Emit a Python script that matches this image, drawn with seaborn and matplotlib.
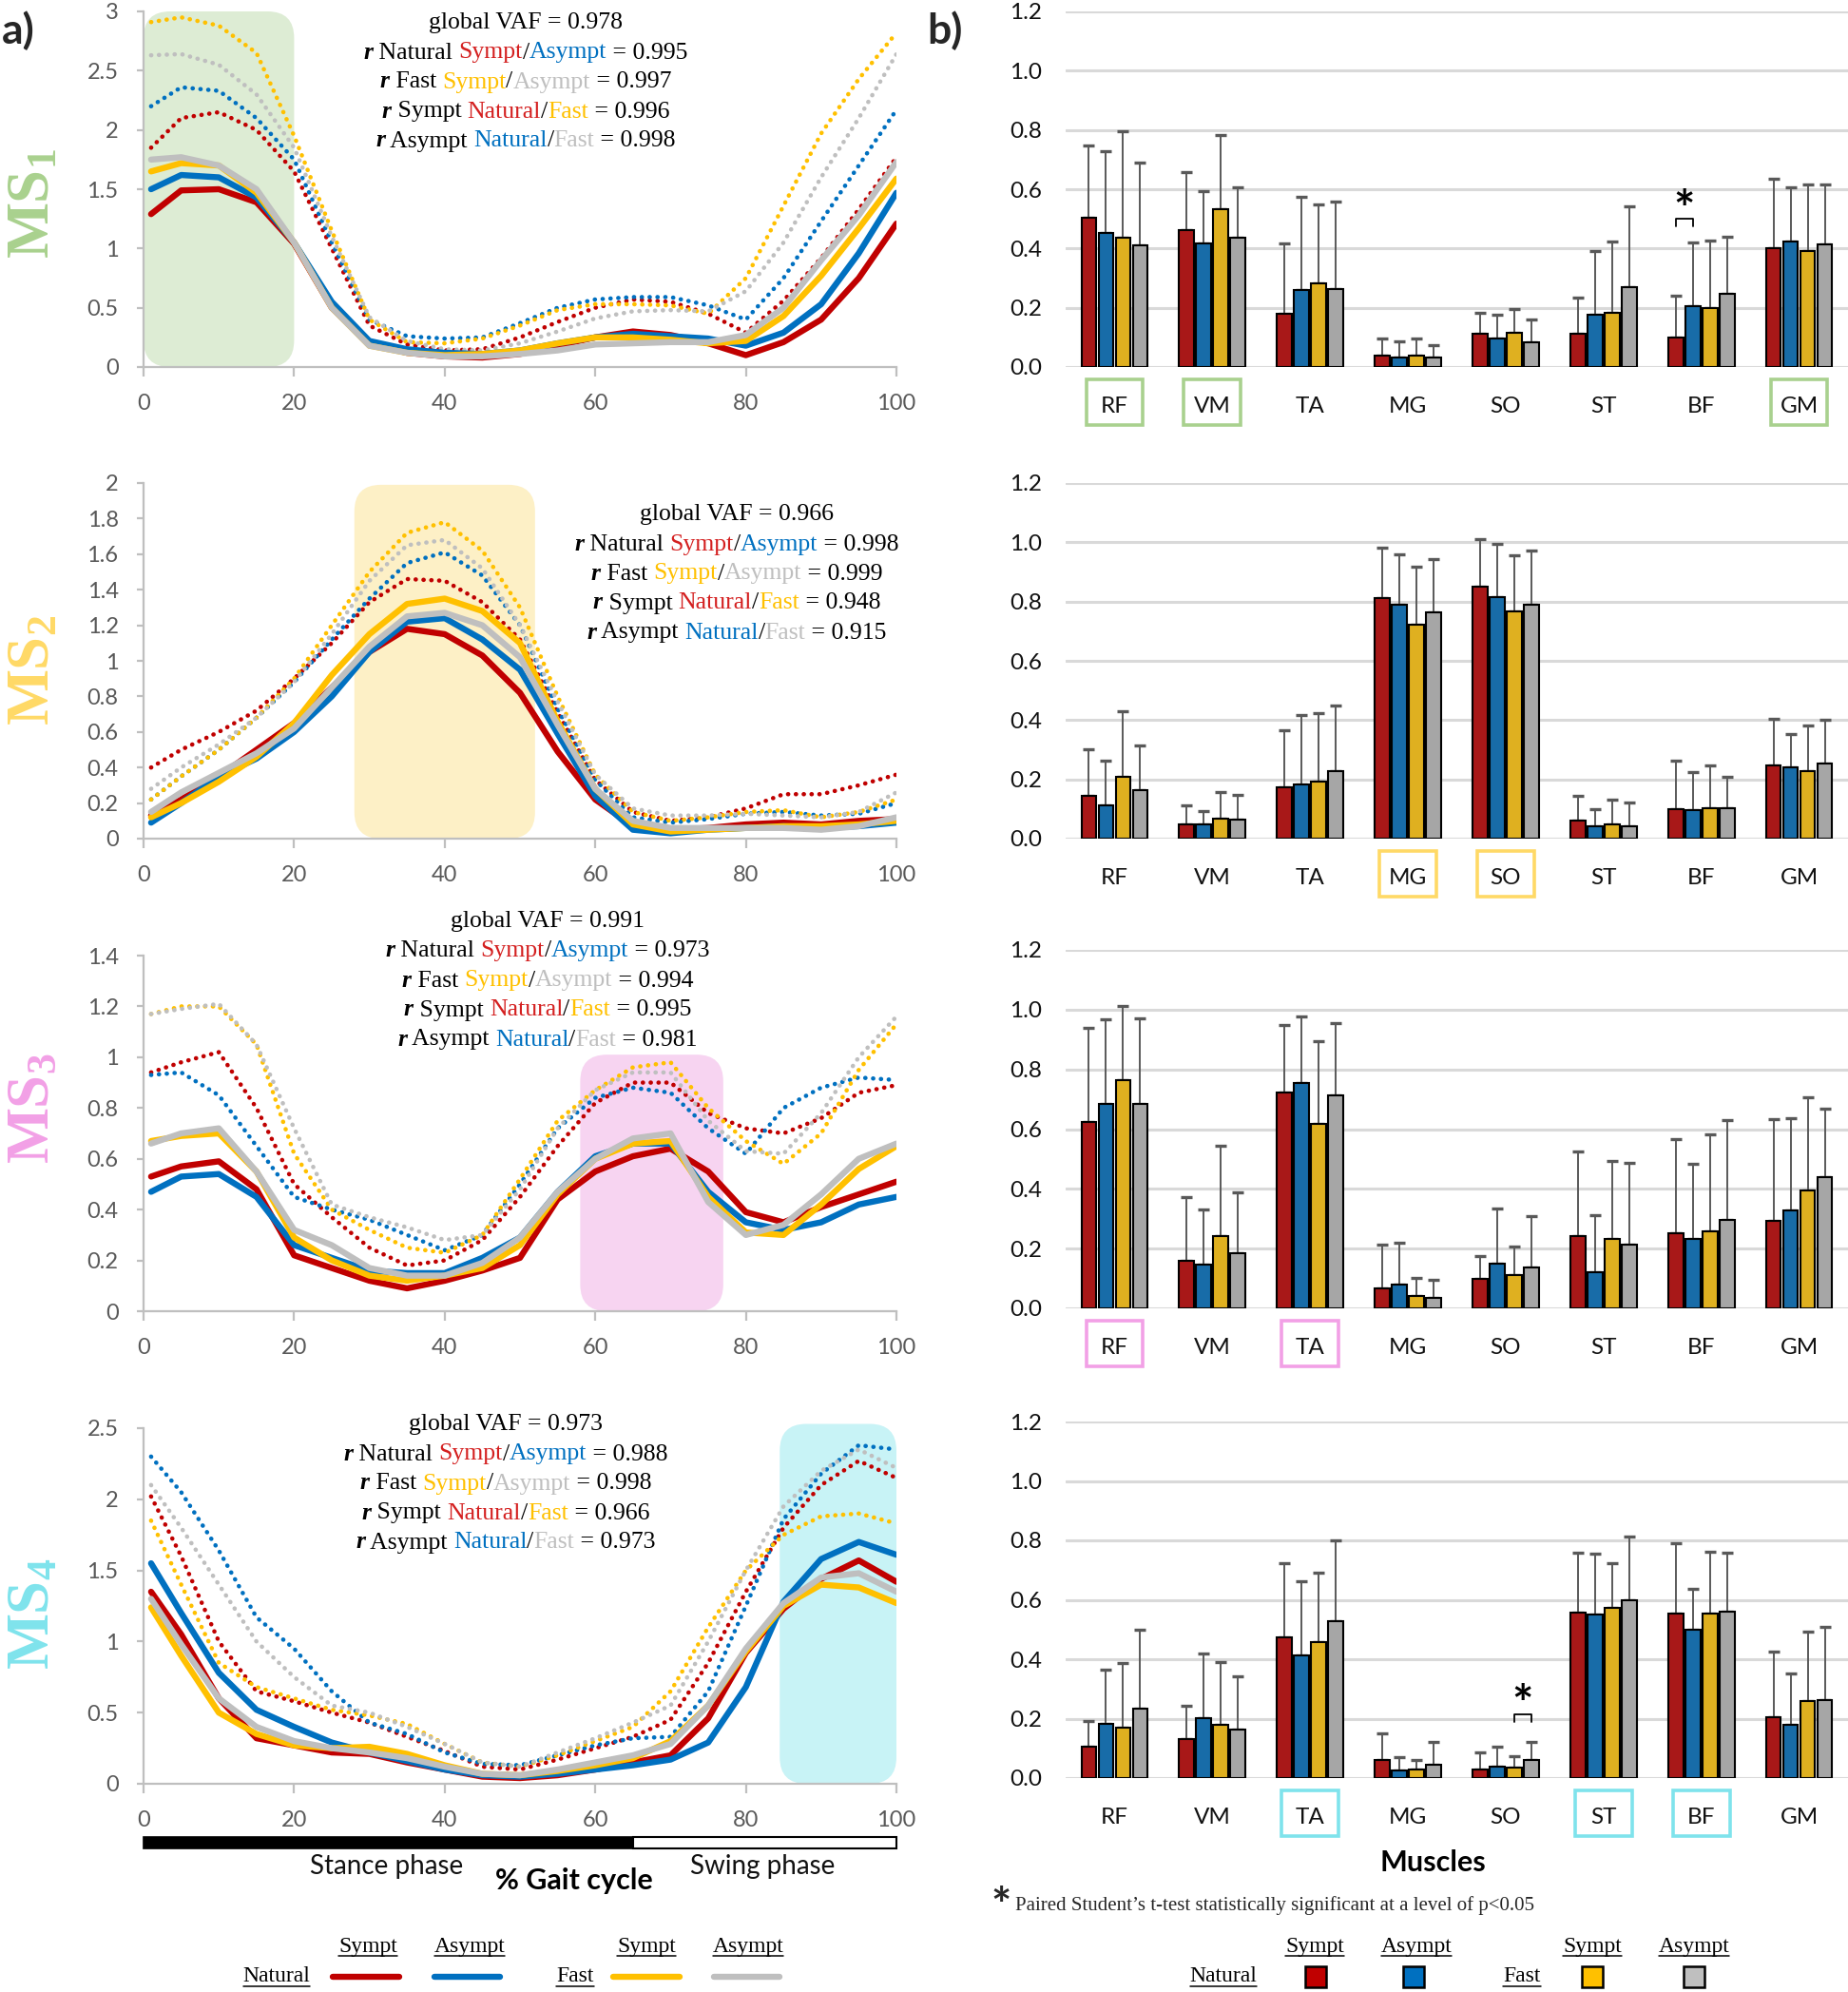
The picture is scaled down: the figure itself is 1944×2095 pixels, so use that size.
import numpy as np
import pandas as pd
import matplotlib
matplotlib.use("Agg")
import matplotlib.pyplot as plt
import seaborn as sns
from matplotlib.patches import FancyBboxPatch, Rectangle
from matplotlib.lines import Line2D
from matplotlib.container import BarContainer
from matplotlib.ticker import FuncFormatter

# ---------------- data: muscle synergy activation curves (% gait cycle) ----------------
gait = [1, 5, 10, 15, 20, 25, 30, 35, 40, 45, 50, 55, 60, 65, 70, 75, 80, 85, 90, 95, 100]

# MS1
ms1_nat_sym = [1.29, 1.49, 1.50, 1.39, 1.04, 0.50, 0.20, 0.12, 0.09, 0.08, 0.11, 0.18, 0.25, 0.30, 0.27, 0.20, 0.10, 0.21, 0.40, 0.75, 1.21]
ms1_nat_asym = [1.50, 1.62, 1.60, 1.43, 1.05, 0.55, 0.22, 0.15, 0.12, 0.11, 0.14, 0.20, 0.25, 0.28, 0.26, 0.24, 0.18, 0.29, 0.53, 0.96, 1.47]
ms1_fast_sym = [1.65, 1.72, 1.70, 1.47, 1.05, 0.50, 0.18, 0.12, 0.10, 0.11, 0.14, 0.20, 0.25, 0.25, 0.23, 0.20, 0.22, 0.43, 0.77, 1.17, 1.59]
ms1_fast_asym = [1.75, 1.77, 1.70, 1.50, 1.05, 0.50, 0.18, 0.12, 0.09, 0.09, 0.11, 0.14, 0.19, 0.20, 0.21, 0.21, 0.27, 0.50, 0.90, 1.28, 1.73]
ms1_nat_sym_dot = [1.85, 2.10, 2.15, 2.00, 1.65, 1.00, 0.35, 0.19, 0.14, 0.15, 0.25, 0.38, 0.50, 0.57, 0.55, 0.45, 0.29, 0.56, 0.92, 1.33, 1.77]
ms1_nat_asym_dot = [2.20, 2.36, 2.33, 2.10, 1.75, 1.05, 0.40, 0.26, 0.24, 0.25, 0.37, 0.50, 0.57, 0.59, 0.59, 0.52, 0.40, 0.75, 1.23, 1.70, 2.17]
ms1_fast_sym_dot = [2.91, 2.95, 2.88, 2.65, 1.95, 1.15, 0.40, 0.21, 0.20, 0.24, 0.35, 0.48, 0.53, 0.53, 0.52, 0.45, 0.75, 1.36, 1.97, 2.43, 2.82]
ms1_fast_asym_dot = [2.63, 2.64, 2.55, 2.30, 1.85, 1.10, 0.42, 0.22, 0.15, 0.14, 0.20, 0.30, 0.41, 0.47, 0.48, 0.47, 0.64, 1.05, 1.60, 2.10, 2.64]

# MS2
ms2_nat_sym = [0.13, 0.22, 0.35, 0.50, 0.65, 0.85, 1.05, 1.18, 1.15, 1.03, 0.82, 0.49, 0.22, 0.07, 0.05, 0.06, 0.08, 0.09, 0.08, 0.10, 0.11]
ms2_nat_asym = [0.09, 0.20, 0.35, 0.45, 0.60, 0.80, 1.05, 1.22, 1.24, 1.12, 0.95, 0.59, 0.24, 0.05, 0.03, 0.05, 0.06, 0.07, 0.06, 0.07, 0.09]
ms2_fast_sym = [0.12, 0.20, 0.32, 0.46, 0.65, 0.92, 1.15, 1.32, 1.35, 1.28, 1.10, 0.66, 0.28, 0.08, 0.04, 0.05, 0.06, 0.07, 0.07, 0.08, 0.10]
ms2_fast_asym = [0.15, 0.26, 0.37, 0.48, 0.62, 0.85, 1.08, 1.25, 1.27, 1.20, 1.02, 0.64, 0.28, 0.10, 0.06, 0.06, 0.06, 0.06, 0.05, 0.07, 0.12]
ms2_nat_sym_dot = [0.40, 0.50, 0.60, 0.72, 0.90, 1.10, 1.33, 1.46, 1.45, 1.33, 1.12, 0.71, 0.33, 0.15, 0.10, 0.12, 0.17, 0.25, 0.25, 0.30, 0.36]
ms2_nat_asym_dot = [0.22, 0.35, 0.50, 0.68, 0.88, 1.12, 1.35, 1.55, 1.61, 1.48, 1.20, 0.73, 0.33, 0.12, 0.09, 0.11, 0.14, 0.15, 0.13, 0.14, 0.20]
ms2_fast_sym_dot = [0.22, 0.35, 0.50, 0.68, 0.90, 1.20, 1.50, 1.72, 1.78, 1.62, 1.30, 0.80, 0.36, 0.15, 0.10, 0.12, 0.15, 0.16, 0.12, 0.15, 0.22]
ms2_fast_asym_dot = [0.28, 0.40, 0.53, 0.68, 0.88, 1.15, 1.45, 1.65, 1.68, 1.52, 1.20, 0.77, 0.36, 0.17, 0.13, 0.13, 0.14, 0.13, 0.12, 0.15, 0.26]

# MS3
ms3_nat_sym = [0.53, 0.57, 0.59, 0.48, 0.22, 0.17, 0.12, 0.09, 0.12, 0.16, 0.21, 0.44, 0.55, 0.61, 0.64, 0.55, 0.39, 0.35, 0.41, 0.46, 0.51]
ms3_nat_asym = [0.47, 0.53, 0.54, 0.45, 0.26, 0.21, 0.16, 0.15, 0.15, 0.21, 0.29, 0.47, 0.61, 0.66, 0.66, 0.47, 0.35, 0.32, 0.35, 0.42, 0.45]
ms3_fast_sym = [0.67, 0.69, 0.70, 0.55, 0.29, 0.20, 0.14, 0.12, 0.14, 0.17, 0.26, 0.46, 0.60, 0.66, 0.67, 0.45, 0.31, 0.30, 0.42, 0.56, 0.65]
ms3_fast_asym = [0.66, 0.70, 0.72, 0.55, 0.32, 0.26, 0.17, 0.14, 0.14, 0.19, 0.29, 0.47, 0.60, 0.68, 0.70, 0.43, 0.30, 0.34, 0.46, 0.60, 0.66]
ms3_nat_sym_dot = [0.94, 0.98, 1.02, 0.80, 0.50, 0.37, 0.25, 0.18, 0.20, 0.28, 0.45, 0.65, 0.82, 0.90, 0.90, 0.78, 0.72, 0.70, 0.76, 0.86, 0.89]
ms3_nat_asym_dot = [0.93, 0.94, 0.85, 0.65, 0.45, 0.40, 0.36, 0.30, 0.24, 0.30, 0.50, 0.72, 0.84, 0.88, 0.86, 0.72, 0.62, 0.80, 0.88, 0.92, 0.91]
ms3_fast_sym_dot = [1.17, 1.20, 1.20, 1.05, 0.62, 0.40, 0.32, 0.25, 0.23, 0.30, 0.52, 0.75, 0.87, 0.96, 0.98, 0.80, 0.67, 0.58, 0.70, 0.95, 1.13]
ms3_fast_asym_dot = [1.17, 1.19, 1.21, 1.05, 0.72, 0.42, 0.37, 0.33, 0.28, 0.30, 0.48, 0.72, 0.87, 0.94, 0.94, 0.75, 0.63, 0.62, 0.78, 1.00, 1.16]

# MS4
ms4_nat_sym = [1.35, 1.05, 0.60, 0.32, 0.27, 0.22, 0.21, 0.15, 0.10, 0.05, 0.04, 0.06, 0.10, 0.15, 0.20, 0.46, 0.92, 1.23, 1.44, 1.57, 1.42]
ms4_nat_asym = [1.55, 1.20, 0.78, 0.52, 0.40, 0.29, 0.22, 0.16, 0.10, 0.06, 0.05, 0.07, 0.10, 0.13, 0.17, 0.29, 0.68, 1.28, 1.58, 1.70, 1.61]
ms4_fast_sym = [1.24, 0.90, 0.50, 0.35, 0.27, 0.25, 0.26, 0.21, 0.13, 0.07, 0.06, 0.09, 0.13, 0.18, 0.30, 0.55, 0.93, 1.25, 1.40, 1.38, 1.27]
ms4_fast_asym = [1.30, 0.98, 0.60, 0.40, 0.30, 0.25, 0.22, 0.18, 0.12, 0.07, 0.06, 0.10, 0.15, 0.20, 0.28, 0.55, 0.95, 1.27, 1.45, 1.48, 1.35]
ms4_nat_sym_dot = [2.02, 1.60, 1.00, 0.65, 0.58, 0.50, 0.43, 0.33, 0.23, 0.12, 0.10, 0.17, 0.25, 0.33, 0.45, 0.85, 1.35, 1.80, 2.10, 2.27, 2.15]
ms4_nat_asym_dot = [2.30, 2.05, 1.64, 1.17, 0.95, 0.65, 0.43, 0.35, 0.22, 0.14, 0.13, 0.20, 0.27, 0.32, 0.33, 0.65, 1.25, 1.86, 2.18, 2.38, 2.35]
ms4_fast_sym_dot = [1.85, 1.40, 0.85, 0.68, 0.60, 0.52, 0.48, 0.42, 0.28, 0.15, 0.12, 0.20, 0.30, 0.40, 0.65, 1.10, 1.50, 1.75, 1.88, 1.90, 1.83]
ms4_fast_asym_dot = [2.10, 1.80, 1.40, 1.00, 0.75, 0.55, 0.50, 0.40, 0.28, 0.15, 0.12, 0.22, 0.32, 0.43, 0.55, 1.00, 1.50, 1.95, 2.20, 2.35, 2.22]

# highlighted phase of each synergy (% gait) and its height
highlight_start = [0, 28, 58, 84.5]
highlight_end = [20, 52, 77, 100]
highlight_top = [3.0, 1.99, 1.01, 2.53]

# similarity stats
vaf = ["0.978", "0.966", "0.991", "0.973"]
r_natural = ["0.995", "0.998", "0.973", "0.988"]
r_fast = ["0.997", "0.999", "0.994", "0.998"]
r_sympt = ["0.996", "0.948", "0.995", "0.966"]
r_asympt = ["0.998", "0.915", "0.981", "0.973"]

stance_end = 65

# ---------------- data: muscle weights (mean, SD) ----------------
muscles = ["RF", "VM", "TA", "MG", "SO", "ST", "BF", "GM"]
conditions = ["Natural Sympt", "Natural Asympt", "Fast Sympt", "Fast Asympt"]

w1_mean = [[0.504, 0.463, 0.179, 0.038, 0.113, 0.112, 0.100, 0.400],
           [0.452, 0.418, 0.261, 0.033, 0.097, 0.175, 0.204, 0.424],
           [0.437, 0.533, 0.281, 0.040, 0.117, 0.184, 0.198, 0.390],
           [0.410, 0.437, 0.263, 0.032, 0.082, 0.270, 0.247, 0.413]]
w1_sd = [[0.243, 0.194, 0.239, 0.059, 0.071, 0.122, 0.141, 0.236],
         [0.275, 0.176, 0.312, 0.053, 0.079, 0.217, 0.216, 0.182],
         [0.358, 0.250, 0.267, 0.057, 0.078, 0.238, 0.228, 0.226],
         [0.280, 0.168, 0.294, 0.043, 0.079, 0.273, 0.191, 0.203]]

w2_mean = [[0.144, 0.047, 0.173, 0.812, 0.850, 0.060, 0.099, 0.248],
           [0.112, 0.047, 0.182, 0.789, 0.815, 0.043, 0.095, 0.240],
           [0.207, 0.067, 0.193, 0.723, 0.766, 0.049, 0.103, 0.227],
           [0.163, 0.065, 0.229, 0.764, 0.790, 0.043, 0.103, 0.252]]
w2_sd = [[0.159, 0.064, 0.194, 0.169, 0.160, 0.085, 0.165, 0.156],
         [0.150, 0.046, 0.235, 0.170, 0.179, 0.056, 0.128, 0.113],
         [0.222, 0.090, 0.229, 0.196, 0.191, 0.083, 0.144, 0.154],
         [0.152, 0.083, 0.221, 0.180, 0.181, 0.078, 0.106, 0.150]]

w3_mean = [[0.624, 0.158, 0.722, 0.068, 0.099, 0.243, 0.253, 0.294],
           [0.683, 0.148, 0.754, 0.080, 0.151, 0.120, 0.232, 0.329],
           [0.765, 0.241, 0.618, 0.040, 0.110, 0.232, 0.259, 0.396],
           [0.683, 0.186, 0.714, 0.036, 0.138, 0.214, 0.297, 0.440]]
w3_sd = [[0.315, 0.216, 0.227, 0.144, 0.076, 0.282, 0.312, 0.340],
         [0.285, 0.183, 0.223, 0.139, 0.183, 0.193, 0.253, 0.307],
         [0.247, 0.302, 0.277, 0.062, 0.096, 0.261, 0.325, 0.310],
         [0.287, 0.203, 0.240, 0.061, 0.172, 0.274, 0.332, 0.227]]

w4_mean = [[0.105, 0.130, 0.475, 0.060, 0.030, 0.558, 0.554, 0.206],
           [0.181, 0.202, 0.414, 0.026, 0.037, 0.550, 0.498, 0.180],
           [0.169, 0.179, 0.457, 0.028, 0.034, 0.572, 0.554, 0.260],
           [0.234, 0.164, 0.529, 0.045, 0.060, 0.597, 0.561, 0.261]]
w4_sd = [[0.088, 0.114, 0.248, 0.091, 0.057, 0.201, 0.236, 0.219],
         [0.183, 0.218, 0.250, 0.045, 0.068, 0.205, 0.139, 0.173],
         [0.218, 0.213, 0.235, 0.034, 0.040, 0.151, 0.207, 0.234],
         [0.264, 0.180, 0.272, 0.077, 0.063, 0.217, 0.199, 0.247]]

boxed = [["RF", "VM", "GM"], ["MG", "SO"], ["RF", "TA"], ["TA", "ST", "BF"]]
# (muscle, condition a, condition b, bracket height)
significance = [("BF", 0, 1, 0.50), None, None, ("SO", 2, 3, 0.215)]

# ---------------- style ----------------
RED, BLUE, YEL = "#C00000", "#0070C0", "#FFC000"
GRAY_LINE, GRAY_BAR = "#BFBFBF", "#A6A6A6"
TXT_RED = "#D42020"
ms_colors = ["#A9D18E", "#FFD966", "#F2A0E6", "#7FE3EC"]
hl_colors = ["#DDECD4", "#FDF0C6", "#F7D4F1", "#C8F3F6"]
SERIF = "Liberation Serif"

sns.set_theme(style="white")
plt.rcParams["font.family"] = ["Lato", "DejaVu Sans"]
plt.rcParams["mathtext.fontset"] = "custom"
plt.rcParams["mathtext.rm"] = "Liberation Serif"
plt.rcParams["mathtext.bf"] = "Liberation Serif:bold"

W, H = 1944, 2095
fig = plt.figure(figsize=(W / 100, H / 100), dpi=100)


def fx(px):
    return px / W


def fy(py):
    return 1 - py / H


def add_ax(left, right, top, bottom):
    return fig.add_axes([fx(left), fy(bottom), (right - left) / W, (bottom - top) / H])


left_rows = [(12, 386), (508, 882), (1005, 1379), (1502, 1876)]
right_rows = [(12, 386), (508, 882), (999, 1376), (1495, 1870)]
ymax_left = [3.0, 2.0, 1.4, 2.5]
ystep_left = [0.5, 0.2, 0.2, 0.5]

curves = [
    (ms1_nat_sym, ms1_nat_asym, ms1_fast_sym, ms1_fast_asym,
     ms1_nat_sym_dot, ms1_nat_asym_dot, ms1_fast_sym_dot, ms1_fast_asym_dot),
    (ms2_nat_sym, ms2_nat_asym, ms2_fast_sym, ms2_fast_asym,
     ms2_nat_sym_dot, ms2_nat_asym_dot, ms2_fast_sym_dot, ms2_fast_asym_dot),
    (ms3_nat_sym, ms3_nat_asym, ms3_fast_sym, ms3_fast_asym,
     ms3_nat_sym_dot, ms3_nat_asym_dot, ms3_fast_sym_dot, ms3_fast_asym_dot),
    (ms4_nat_sym, ms4_nat_asym, ms4_fast_sym, ms4_fast_asym,
     ms4_nat_sym_dot, ms4_nat_asym_dot, ms4_fast_sym_dot, ms4_fast_asym_dot),
]
line_colors = [RED, BLUE, YEL, GRAY_LINE]

# text block anchors (figure px): centre x, first line y
text_pos = [(553, 24), (775, 541), (576, 969), (532, 1498)]
ms_label_y = [214, 705, 1166, 1697]

to_center = []
left_axes = []

for i in range(4):
    top, bottom = left_rows[i]
    ax = add_ax(151, 943, top, bottom)
    left_axes.append(ax)
    ymax = ymax_left[i]

    # highlighted window with rounded corners
    xupp = 100 / 792
    yupp = ymax / (bottom - top)
    r = 28 * xupp
    ax.add_patch(FancyBboxPatch((highlight_start[i], 0),
                                highlight_end[i] - highlight_start[i], highlight_top[i],
                                boxstyle=f"round,pad=0,rounding_size={r}",
                                mutation_aspect=yupp / xupp,
                                fc=hl_colors[i], ec="none", zorder=0, clip_on=False))

    solid = curves[i][:4]
    dotted = curves[i][4:]
    for vals, c in zip(dotted, line_colors):
        sns.lineplot(x=gait, y=vals, ax=ax, color=c, lw=3.3,
                     linestyle=(0, (0.05, 1.75)), dash_capstyle="round",
                     dash_joinstyle="round", zorder=2)
    for vals, c in zip(solid, line_colors):
        sns.lineplot(x=gait, y=vals, ax=ax, color=c, lw=4.6,
                     solid_capstyle="round", solid_joinstyle="round", zorder=3)

    ax.set_xlim(0, 100)
    ax.set_ylim(0, ymax)
    ax.set_xticks(range(0, 101, 20))
    ax.set_yticks(np.arange(0, ymax + 1e-6, ystep_left[i]))
    ax.yaxis.set_major_formatter(FuncFormatter(lambda v, p: f"{round(v, 2):g}"))
    ax.set_xlabel("")
    ax.set_ylabel("")
    for s in ["top", "right"]:
        ax.spines[s].set_visible(False)
    for s in ["left", "bottom"]:
        ax.spines[s].set_color(GRAY_LINE)
        ax.spines[s].set_linewidth(1.6)
    ax.tick_params(axis="both", bottom=True, left=True, direction="out",
                   color=GRAY_LINE, width=1.6, labelsize=17, labelcolor="#595959")
    ax.tick_params(axis="x", length=7, pad=13)
    ax.tick_params(axis="y", length=5, pad=14)
    ax.patch.set_alpha(0)

    # MS label
    fig.text(fx(33), fy(ms_label_y[i]), rf"$\mathbf{{MS_{i + 1}}}$", rotation=90,
             fontsize=45, color=ms_colors[i], ha="center", va="center")

    # similarity text
    lines = [
        [(f"global VAF = {vaf[i]}", "black", False)],
        [("r", "black", True), (" Natural ", "black", False), ("Sympt", TXT_RED, False),
         ("/", "black", False), ("Asympt", BLUE, False), (f" = {r_natural[i]}", "black", False)],
        [("r", "black", True), (" Fast ", "black", False), ("Sympt", YEL, False),
         ("/", "black", False), ("Asympt", GRAY_LINE, False), (f" = {r_fast[i]}", "black", False)],
        [("r", "black", True), (" Sympt ", "black", False), ("Natural", TXT_RED, False),
         ("/", "black", False), ("Fast", YEL, False), (f" = {r_sympt[i]}", "black", False)],
        [("r", "black", True), (" Asympt ", "black", False), ("Natural", BLUE, False),
         ("/", "black", False), ("Fast", GRAY_LINE, False), (f" = {r_asympt[i]}", "black", False)],
    ]
    cx, cy = text_pos[i]
    for k, pieces in enumerate(lines):
        arts = []
        for j, (txt, col, bi) in enumerate(pieces):
            kw = dict(color=col, fontsize=18.5, family=SERIF,
                      fontweight="bold" if bi else "normal",
                      style="italic" if bi else "normal")
            if j == 0:
                t = fig.text(fx(cx), fy(cy + k * 31), txt, ha="left", va="center", **kw)
            else:
                t = ax.annotate(txt, xy=(1, 0), xycoords=arts[-1], ha="left", va="bottom",
                                annotation_clip=False, **kw)
            arts.append(t)
        to_center.append((arts, cx))

# stance / swing bar under MS4
ax4 = left_axes[3]
tr = ax4.get_xaxis_transform()
ax4.add_patch(Rectangle((0, -0.182), stance_end, 0.032, transform=tr, fc="black",
                        ec="black", lw=1.2, clip_on=False))
ax4.add_patch(Rectangle((stance_end, -0.182), 100 - stance_end, 0.032, transform=tr,
                        fc="white", ec="black", lw=1.5, clip_on=False))
fig.text(fx(407), fy(1963), "Stance phase", fontsize=20, ha="center", va="center", color="#111111")
fig.text(fx(802), fy(1963), "Swing phase", fontsize=20, ha="center", va="center", color="#111111")
fig.text(fx(604), fy(1978), "% Gait cycle", fontsize=22, fontweight="bold", ha="center",
         va="center", color="black")

# ---------------- right column: muscle weights ----------------
w_means = [w1_mean, w2_mean, w3_mean, w4_mean]
w_sds = [w1_sd, w2_sd, w3_sd, w4_sd]
bar_colors = [RED, BLUE, YEL, GRAY_BAR]

for i in range(4):
    top, bottom = right_rows[i]
    ax = add_ax(1121, 1944, top, bottom)
    df = pd.DataFrame({
        "muscle": muscles * 4,
        "cond": [c for c in conditions for _ in muscles],
        "value": sum(w_means[i], []),
    })
    sns.barplot(data=df, x="muscle", y="value", hue="cond", order=muscles,
                hue_order=conditions, palette=bar_colors, width=0.7, gap=0.13,
                edgecolor="black", linewidth=1.5, errorbar=None, legend=False,
                ax=ax, zorder=3)
    bar_conts = [c for c in ax.containers if isinstance(c, BarContainer)]
    centers = []
    for k, cont in enumerate(bar_conts):
        bars = sorted([p for p in cont if p is not None], key=lambda p: p.get_x())
        xs = [b.get_x() + b.get_width() / 2 for b in bars]
        ys = [b.get_height() for b in bars]
        centers.append(xs)
        ax.errorbar(xs, ys, yerr=[np.zeros(len(ys)), w_sds[i][k]], fmt="none",
                    ecolor="#595959", elinewidth=1.4, capsize=4, capthick=2.4, zorder=2)

    ax.set_xlim(-0.5, 7.5)
    ax.set_ylim(0, 1.2)
    ax.set_yticks(np.arange(0, 1.21, 0.2))
    ax.yaxis.set_major_formatter(FuncFormatter(lambda v, p: f"{v:.1f}"))
    ax.yaxis.grid(True, color="#D9D9D9", lw=2.2)
    ax.set_axisbelow(True)
    ax.set_xlabel("")
    ax.set_ylabel("")
    for s in ax.spines.values():
        s.set_visible(False)
    ax.tick_params(axis="both", length=0, labelsize=17.5, labelcolor="#111111")
    ax.tick_params(axis="y", pad=18)
    ax.tick_params(axis="x", pad=22)
    ax.patch.set_alpha(0)

    # coloured frames around the muscles belonging to the synergy
    trx = ax.get_xaxis_transform()
    hgt = 48 / (bottom - top)
    for m in boxed[i]:
        xi = muscles.index(m)
        ax.add_patch(Rectangle((xi - 0.29, -37 / (bottom - top) - hgt / 2), 0.58, hgt,
                               transform=trx, fc="none", ec=ms_colors[i], lw=2.6,
                               clip_on=False))

    sig = significance[i]
    if sig is not None:
        m, a, b, yb = sig
        xi = muscles.index(m)
        xa, xb = centers[a][xi], centers[b][xi]
        leg = 0.025
        ax.plot([xa, xa, xb, xb], [yb - leg, yb, yb, yb - leg], color="black", lw=1.3, zorder=4)
        ax.text((xa + xb) / 2, yb + 0.022, "*", fontsize=38, fontweight="bold",
                ha="center", va="center", color="black")

fig.text(fx(1507), fy(1959), "Muscles", fontsize=22, fontweight="bold", ha="center",
         va="center", color="black")
fig.text(fx(1053), fy(2006), "*", fontsize=36, fontweight="bold", ha="center", va="center")
fig.text(fx(1068), fy(2004), "Paired Student\u2019s t-test statistically significant at a level of p<0.05",
         fontsize=15, family=SERIF, ha="left", va="center")

# panel letters
fig.text(fx(2), fy(32), "a)", fontsize=32, fontweight="bold", ha="left", va="center")
fig.text(fx(975), fy(32), "b)", fontsize=32, fontweight="bold", ha="left", va="center")

# ---------------- legends ----------------
underlined = []
leg_kw = dict(fontsize=17, family=SERIF, ha="center", va="center", color="black")
for x, lab in [(387, "Sympt"), (494, "Asympt"), (680, "Sympt"), (787, "Asympt"),
               (1383, "Sympt"), (1490, "Asympt"), (1675, "Sympt"), (1782, "Asympt")]:
    underlined.append(fig.text(fx(x), fy(2047), lab, **leg_kw))
for x, lab in [(291, "Natural"), (605, "Fast"), (1287, "Natural"), (1601, "Fast")]:
    underlined.append(fig.text(fx(x), fy(2079), lab, **leg_kw))

for (x0, x1), c in zip([(350, 420), (457, 526), (645, 715), (751, 820)], line_colors):
    fig.add_artist(Line2D([fx(x0), fx(x1)], [fy(2079), fy(2079)], color=c, lw=4.6))
for xc, c in zip([1384, 1487, 1675, 1782], [RED, BLUE, YEL, GRAY_LINE]):
    fig.add_artist(Rectangle((fx(xc - 11), fy(2090)), 22 / W, 22 / H, fc=c, ec="black", lw=1.8))

# ---------------- centre the multi-coloured lines, add underlines ----------------
fig.canvas.draw()
for arts, cx in to_center:
    bb0 = arts[0].get_window_extent()
    bb1 = arts[-1].get_window_extent()
    w = bb1.x1 - bb0.x0
    arts[0].set_x(fx(cx - w / 2))
for t in underlined:
    bb = t.get_window_extent()
    fig.add_artist(Line2D([bb.x0 / W, bb.x1 / W], [(bb.y0 + 1) / H, (bb.y0 + 1) / H],
                          color="black", lw=1.1))

fig.savefig("out.png", dpi=100)
